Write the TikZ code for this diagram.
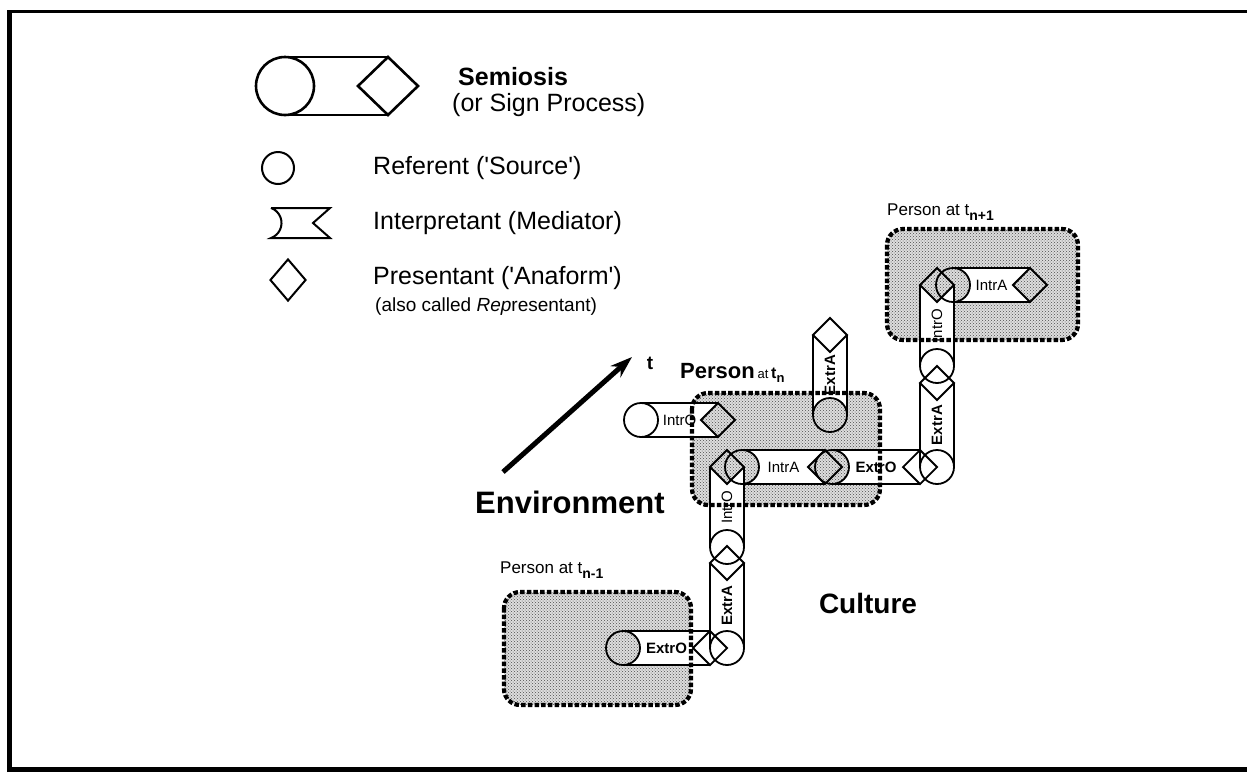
\documentclass[tikz,border=0pt]{standalone}
\usepackage{fontspec}
\setmainfont{Liberation Sans}
\usetikzlibrary{shapes.geometric,calc,arrows.meta,patterns}
\pgfdeclarelayer{boxfill}
\pgfdeclarelayer{interp}
\pgfdeclarelayer{boxedge}
\pgfsetlayers{boxfill,interp,main,boxedge}

\tikzset{
  refc/.style={circle,draw,line width=1.8pt,minimum size=34pt,inner sep=0pt,outer sep=0pt},
  presd/.style={diamond,draw,line width=1.8pt,minimum width=34pt,minimum height=34pt,inner sep=0pt,outer sep=0pt},
  capline/.style={line width=1.8pt},
  intlab/.style={inner sep=0pt,font=\fontsize{15}{15}\selectfont},
  extlab/.style={inner sep=0pt,font=\fontsize{15}{15}\selectfont\bfseries},
  stipple/.style={fill=black!13},
  stippledots/.style={pattern=crosshatch dots,pattern color=black!70},
  hatchedge/.style={line width=4.2pt,dash pattern=on 4.5pt off 2.2pt},
  legtext/.style={anchor=west,inner sep=0pt,font=\fontsize{25}{28}\selectfont},
  persontext/.style={anchor=base west,inner sep=0pt},
}

% horizontal sign process: referent circle, interpretant band, presentant diamond
\newcommand\hunit[5]{%
  \node[refc] (#1c) at (#2) {};
  \node[presd] (#1d) at (#3) {};
  \begin{pgfonlayer}{interp}
    \fill[white] (#1c.north) -- (#1d.north) -- (#1d.west) -- (#1d.south) -- (#1c.south)
      arc[start angle=-90,end angle=90,radius=17pt] -- cycle;
  \end{pgfonlayer}
  \draw[capline] (#1c.north) -- (#1d.north) (#1c.south) -- (#1d.south);
  \node[#5] (#1t) at ($(#1c)!0.5!(#1d)$) {#4};
}
% vertical sign process, referent below, presentant above
\newcommand\vunit[5]{%
  \node[refc] (#1c) at (#2) {};
  \node[presd] (#1d) at (#3) {};
  \begin{pgfonlayer}{interp}
    \fill[white] (#1c.west) -- (#1d.west) -- (#1d.south) -- (#1d.east) -- (#1c.east)
      arc[start angle=0,end angle=180,radius=17pt] -- cycle;
  \end{pgfonlayer}
  \draw[capline] (#1c.west) -- (#1d.west) (#1c.east) -- (#1d.east);
  \node[#5,rotate=90] (#1t) at ($(#1c)!0.5!(#1d)$) {#4};
}
% shaded person region with hatched rim
\newcommand\personbox[2]{%
  \begin{pgfonlayer}{boxfill}
    \fill[stipple,rounded corners=16pt] (#1) rectangle (#2);
    \fill[stippledots,rounded corners=16pt] (#1) rectangle (#2);
  \end{pgfonlayer}
  \begin{pgfonlayer}{boxedge}
    \draw[hatchedge,rounded corners=16pt] (#1) rectangle (#2);
  \end{pgfonlayer}
}

\begin{document}
\begin{tikzpicture}[x=1pt,y=1pt]
\useasboundingbox (0,0) rectangle (1247,-772);
\begin{pgfonlayer}{boxfill}
  \fill[white] (0,0) rectangle (1247,-772);
\end{pgfonlayer}

% frame
\draw[line width=4.5pt] (9.5,-772) -- (9.5,-11.5);
\draw[line width=3.5pt] (7,-11.5) -- (1247,-11.5);
\draw[line width=4.5pt] (7,-769.5) -- (1247,-769.5);

% legend
\node[circle,draw,line width=2.6pt,minimum size=58pt,inner sep=0pt,outer sep=0pt] (lsc) at (285,-86) {};
\node[diamond,draw,line width=2.6pt,minimum width=60pt,minimum height=58pt,inner sep=0pt,outer sep=0pt] (lsd) at (388,-86) {};
\draw[line width=2.6pt] (lsc.north) -- (lsd.north) (lsc.south) -- (lsd.south);
\node[legtext,font=\fontsize{25}{28}\selectfont\bfseries] (lsem) at (458,-77) {Semiosis};
\node[legtext] (lsp) at (452,-105) {(or Sign Process)};

\node[circle,draw,line width=2pt,minimum size=32pt,inner sep=0pt] (lrefsym) at (278,-168) {};
\node[legtext] (lref) at (373,-168) {Referent (\textquotesingle Source\textquotesingle)};

\draw[line width=2pt] (271,-208) -- (330,-208) -- (313,-223) -- (330,-238) -- (271,-238)
  arc[start angle=-70,end angle=70,radius=16pt];
\node[legtext] (lint) at (373,-223) {Interpretant (Mediator)};

\node[diamond,draw,line width=2pt,minimum width=36pt,minimum height=42pt,inner sep=0pt] (lpresym) at (288,-280) {};
\node[legtext] (lpre) at (373,-278) {Presentant (\textquotesingle Anaform\textquotesingle)};
\node[anchor=west,inner sep=0pt,font=\fontsize{19}{19}\selectfont] (lalso) at (375,-307) {(also called \textit{Rep}resentant)};

% time arrow
\coordinate (envtail) at (503,-472);
\coordinate (envhead) at (632,-357);
\draw[line width=5pt,-{Stealth[length=22pt,width=15pt]}] (envtail) -- (envhead);
\node[inner sep=0pt,font=\fontsize{19}{19}\selectfont\bfseries] (tlab) at (650,-363) {t};
\node[anchor=base west,inner sep=0pt,font=\fontsize{31}{31}\selectfont\bfseries] (env) at (475,-513) {Environment};
\node[anchor=base,inner sep=0pt,font=\fontsize{28}{28}\selectfont\bfseries] (cult) at (868,-613) {Culture};

% person regions
\personbox{692,-393}{880,-505}
\personbox{887,-229}{1078,-340}
\personbox{504,-592}{691,-705}

\node[persontext] (ptn) at (680,-378) {{\bfseries\fontsize{22}{22}\selectfont Person} {\fontsize{13}{13}\selectfont at} {\bfseries\fontsize{16}{16}\selectfont t}\raisebox{-4pt}{\bfseries\fontsize{13}{13}\selectfont n}};
\node[persontext] (ptn1) at (887,-215) {\fontsize{17}{17}\selectfont Person at t\raisebox{-5pt}{\bfseries\fontsize{14}{14}\selectfont n+1}};
\node[persontext] (ptm1) at (500,-573) {\fontsize{17}{17}\selectfont Person at t\raisebox{-5pt}{\bfseries\fontsize{14}{14}\selectfont n-1}};

% chain of sign processes
\hunit{ua}{623,-648}{710,-648}{ExtrO}{extlab}
\vunit{ub}{727,-648}{727,-563}{ExtrA}{extlab}
\vunit{uc}{727,-547}{727,-467}{IntrO}{intlab}
\hunit{ud}{742,-467}{825,-467}{IntrA}{intlab}
\hunit{ue}{832,-467}{920,-467}{ExtrO}{extlab}
\vunit{uf}{937,-467}{937,-383}{ExtrA}{extlab}
\vunit{ug}{937,-366}{937,-285}{IntrO}{intlab}
\hunit{uh}{953,-285}{1030,-285}{IntrA}{intlab}
\hunit{ui}{641,-420}{718,-420}{IntrO}{intlab}
\vunit{uj}{830,-415}{830,-335}{ExtrA}{extlab}

\end{tikzpicture}
\end{document}
